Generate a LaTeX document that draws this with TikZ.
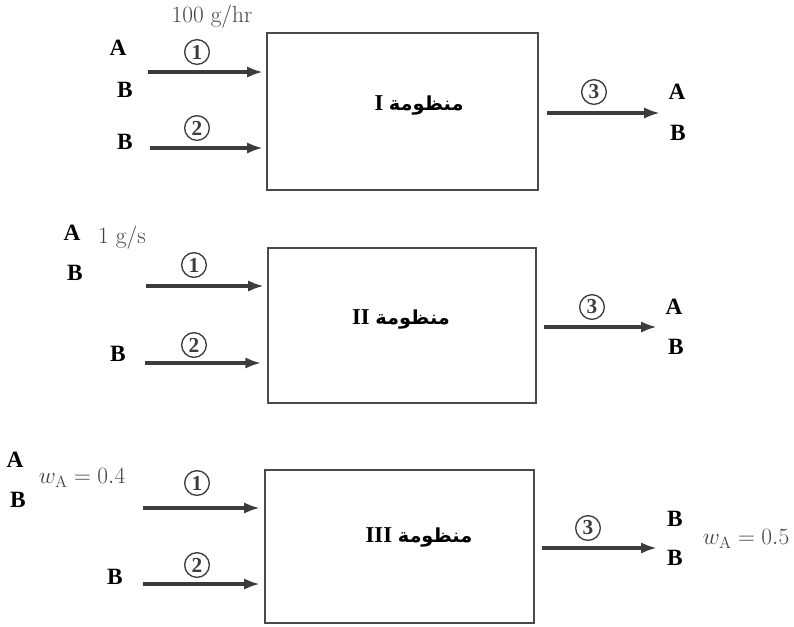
\documentclass[tikz,border=0pt]{standalone}
\usepackage{fix-cm}
\usepackage[no-math]{fontspec}
\newfontfamily\timesf{Liberation Serif}
\newfontfamily\arabicfont[Script=Arabic]{DejaVu Sans}
\TeXXeTstate=1
\usetikzlibrary{arrows.meta}
\definecolor{boxgray}{HTML}{4A4A4A}
\definecolor{arrowgray}{HTML}{3C3C3C}
\definecolor{textgray}{HTML}{444444}
\tikzset{
  sysbox/.style={draw=boxgray, line width=1.2pt, rectangle, anchor=north west, inner sep=0pt, outer sep=0pt},
  flow/.style={draw=arrowgray, line width=2.4pt, -{Latex[length=12pt,width=8.5pt]}},
  cnum/.style={circle, draw=arrowgray, line width=1pt, inner sep=0pt, minimum size=18.5pt, text=arrowgray, font=\timesf\fontsize{16}{16}\selectfont\bfseries},
  spec/.style={inner sep=0pt, font=\timesf\fontsize{17.5}{17.5}\selectfont\bfseries},
  qty/.style={inner sep=0pt, text=textgray, font=\fontsize{17.5}{17.5}\selectfont},
  syslabel/.style={inner sep=0pt, font=\timesf\fontsize{17}{17}\selectfont\bfseries}
}
\newcommand{\syslab}[1]{\beginR{\arabicfont\fontsize{14.5}{14.5}\selectfont\bfseries منظومة} #1\endR}
\begin{document}
\begin{tikzpicture}[x=0.75pt,y=-0.75pt]
\useasboundingbox (0,0) rectangle (794,626);

% ---------- System I ----------
\node[sysbox, minimum width=203.25pt, minimum height=117.75pt] (boxI) at (267,33) {};
\node[syslabel] (labI) at (419,105) {\syslab{I}};
\node[qty] (qI) at (212,17) {100 g/hr};
\node[spec] (aI1) at (118,48) {A};
\node[spec] (bI1) at (125,90) {B};
\node[spec] (bI2) at (125,142) {B};
\node[cnum] (cI1) at (197,52) {1};
\node[cnum] (cI2) at (197,128) {2};
\coordinate (sI1) at (148,72);
\coordinate (sI2) at (150,148);
\draw[flow, shorten >=3pt] (sI1) -- (sI1 -| boxI.west);
\draw[flow, shorten >=3pt] (sI2) -- (sI2 -| boxI.west);
\coordinate (eI3) at (660,113);
\draw[flow, shorten <=6.75pt] (eI3 -| boxI.east) -- (eI3);
\node[cnum] (cI3) at (594,92) {3};
\node[spec] (aI3) at (677,92) {A};
\node[spec] (bI3) at (678,133) {B};

% ---------- System II ----------
\node[sysbox, minimum width=201pt, minimum height=116.25pt] (boxII) at (268,248) {};
\node[syslabel] (labII) at (401,319) {\syslab{II}};
\node[spec] (aII1) at (72,233) {A};
\node[qty] (qII) at (122,238) {1 g/s};
\node[spec] (bII1) at (75,273) {B};
\node[spec] (bII2) at (118,354) {B};
\node[cnum] (cII1) at (194,265) {1};
\node[cnum] (cII2) at (194,345) {2};
\coordinate (sII1) at (146,286);
\coordinate (sII2) at (145,363);
\draw[flow, shorten >=3pt] (sII1) -- (sII1 -| boxII.west);
\draw[flow, shorten >=5pt] (sII2) -- (sII2 -| boxII.west);
\coordinate (eII3) at (657,327);
\draw[flow, shorten <=6pt] (eII3 -| boxII.east) -- (eII3);
\node[cnum] (cII3) at (592,307) {3};
\node[spec] (aII3) at (674,307) {A};
\node[spec] (bII3) at (676,347) {B};

% ---------- System III ----------
\node[sysbox, minimum width=201.75pt, minimum height=114.75pt] (boxIII) at (265,470) {};
\node[syslabel] (labIII) at (419,537) {\syslab{III}};
\node[spec] (aIII1) at (15,460) {A};
\node[qty] (qIII1) at (82,478) {$w_{\mathrm{A}} = 0.4$};
\node[spec] (bIII1) at (18,500) {B};
\node[spec] (bIII2) at (115,577) {B};
\node[cnum] (cIII1) at (197,483) {1};
\node[cnum] (cIII2) at (197,565) {2};
\coordinate (sIII1) at (143,508);
\coordinate (sIII2) at (143,584);
\draw[flow, shorten >=3.75pt] (sIII1) -- (sIII1 -| boxIII.west);
\draw[flow, shorten >=3.75pt] (sIII2) -- (sIII2 -| boxIII.west);
\coordinate (eIII3) at (657,548);
\draw[flow, shorten <=6pt] (eIII3 -| boxIII.east) -- (eIII3);
\node[cnum] (cIII3) at (588,528) {3};
\node[spec] (bIII3) at (675,519) {B};
\node[spec] (bIII4) at (675,558) {B};
\node[qty] (qIII3) at (746,539) {$w_{\mathrm{A}} = 0.5$};
\end{tikzpicture}
\end{document}
